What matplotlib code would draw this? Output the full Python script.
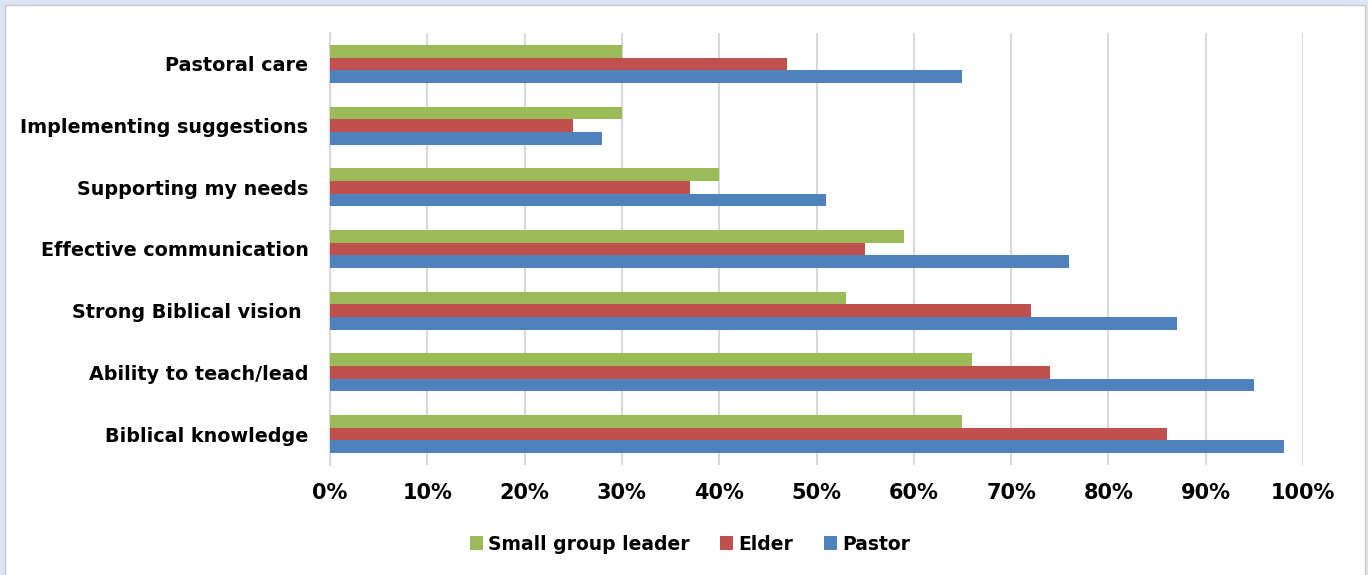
import matplotlib.pyplot as plt
import matplotlib.patches as mpatches
import numpy as np

categories = ["Biblical knowledge", "Ability to teach/lead", "Strong Biblical vision ",
              "Effective communication", "Supporting my needs",
              "Implementing suggestions", "Pastoral care"]
pastor = [98, 95, 87, 76, 51, 28, 65]
elder = [86, 74, 72, 55, 37, 25, 47]
small_group = [65, 66, 53, 59, 40, 30, 30]
ticks = [0, 10, 20, 30, 40, 50, 60, 70, 80, 90, 100]

plt.rcParams['font.family'] = ['DejaVu Sans']

fig = plt.figure(figsize=(13.68, 5.75), dpi=100)
fig.patch.set_facecolor("#dce6f2")
# white chart panel inside the light blue frame (behind the axes)
panel = mpatches.Rectangle((5 / 1368, -0.01), 1360 / 1368, 1 - 5 / 575 + 0.01,
                           transform=fig.transFigure, facecolor="white",
                           edgecolor="#c8c8c8", linewidth=1, zorder=-5)
fig.patches.append(panel)

ax = fig.add_axes([330 / 1368, 1 - 465 / 575, 973 / 1368, 432 / 575])
ax.set_facecolor("none")

y = np.arange(len(categories))
h = 0.205
ax.barh(y - h, pastor, height=h, color="#4f81bd", label="Pastor", zorder=3)
ax.barh(y, elder, height=h, color="#c0504d", label="Elder", zorder=3)
ax.barh(y + h, small_group, height=h, color="#9bbb59", label="Small group leader", zorder=3)

ax.set_xlim(0, 100)
ax.set_ylim(-0.5, len(categories) - 0.5)
ax.set_xticks(ticks)
ax.set_xticklabels([f"{t}%" for t in ticks], fontsize=15, fontweight="bold")
ax.set_yticks(y)
ax.set_yticklabels(categories, fontsize=13.8, fontweight="bold")
ax.tick_params(axis="x", length=0, pad=13)
ax.tick_params(axis="y", length=0, pad=15.5)
ax.xaxis.grid(True, color="#d9d9d9", linewidth=1.5, zorder=0)

for side in ["top", "right", "bottom"]:
    ax.spines[side].set_visible(False)
ax.spines["left"].set_color("#d9d9d9")
ax.spines["left"].set_linewidth(1.5)

handles, labels = ax.get_legend_handles_labels()
leg = fig.legend(handles[::-1], labels[::-1], loc="center", ncol=3,
                 bbox_to_anchor=(690 / 1368, 1 - 544 / 575), frameon=False,
                 prop={"size": 13.5, "weight": "bold"}, handlelength=0.7,
                 handleheight=0.7, handletextpad=0.3, columnspacing=1.6)

fig.savefig("out.png", dpi=100, facecolor=fig.get_facecolor())
